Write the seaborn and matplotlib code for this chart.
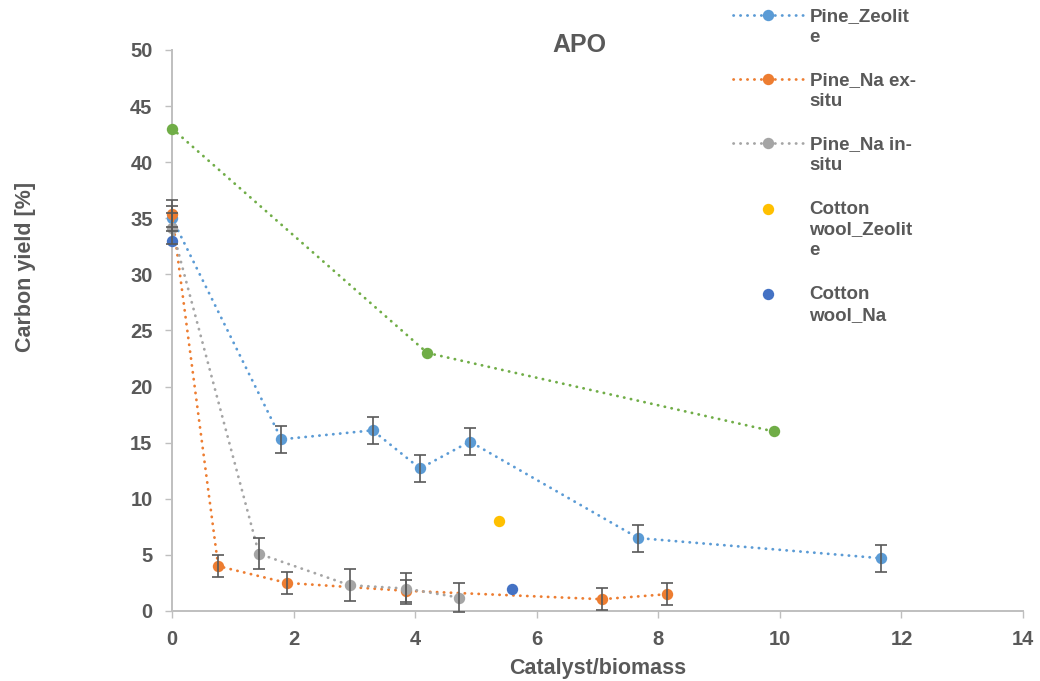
import matplotlib
matplotlib.use("Agg")
import matplotlib.pyplot as plt
import seaborn as sns

# ---- data ---------------------------------------------------------------
# unlabelled reference series (green)
base_x = [0, 4.2, 9.9]
base_y = [43.0, 23.0, 16.0]

# Pine_Zeolite
zeo_x = [0, 1.8, 3.3, 4.08, 4.9, 7.67, 11.67]
zeo_y = [35.0, 15.3, 16.1, 12.7, 15.1, 6.5, 4.7]
zeo_err = [1.1, 1.2, 1.2, 1.2, 1.2, 1.2, 1.2]

# Pine_Na ex-situ
naex_x = [0, 0.76, 1.89, 3.85, 7.07, 8.15]
naex_y = [35.4, 4.0, 2.5, 1.8, 1.05, 1.5]
naex_err = [1.2, 1.0, 1.0, 1.0, 1.0, 1.0]

# Pine_Na in-situ
nain_x = [0, 1.43, 2.92, 3.85, 4.72]
nain_y = [34.1, 5.1, 2.3, 2.0, 1.2]
nain_err = [1.4, 1.4, 1.4, 1.4, 1.3]

# Cotton wool series (single points, no connecting line)
cwz_x = [5.38]
cwz_y = [8.0]
cwna_x = [0, 5.59]
cwna_y = [33.0, 2.0]

labels = ["Pine_Zeolit\ne", "Pine_Na ex-\nsitu", "Pine_Na in-\nsitu",
          "Cotton\nwool_Zeolit\ne", "Cotton\nwool_Na"]
x_ticks = [0, 2, 4, 6, 8, 10, 12, 14]
y_ticks = [0, 5, 10, 15, 20, 25, 30, 35, 40, 45, 50]

# ---- style --------------------------------------------------------------
sns.set_theme(style="white")
plt.rcParams["font.family"] = ["Liberation Sans", "DejaVu Sans"]
plt.rcParams["font.weight"] = "bold"
plt.rcParams["axes.labelweight"] = "bold"

TEXT = "#595959"
AXIS = "#BFBFBF"
ERR = "#595959"
C_ZEO = "#5B9BD5"
C_NAEX = "#ED7D31"
C_NAIN = "#A5A5A5"
C_CWZ = "#FFC000"
C_CWNA = "#4472C4"
C_BASE = "#70AD47"

DOT = (0, (0.1, 2.4))

fig = plt.figure(figsize=(10.4, 6.81), dpi=100)
ax = fig.add_axes([0.1654, 0.1028, 0.8183, 0.8238])


def dotted_series(x, y, color, label=None):
    kw = dict(x=x, y=y, ax=ax, color=color, sort=False, estimator=None,
              errorbar=None, marker="o", markersize=8.2, markeredgewidth=0,
              linewidth=2.0, linestyle=DOT, dash_capstyle="round",
              clip_on=False, zorder=3)
    if label is not None:
        kw["label"] = label
    sns.lineplot(**kw)


def error_bars(x, y, err):
    ax.errorbar(x, y, yerr=err, fmt="none", ecolor=ERR, elinewidth=1.2,
                capsize=4.3, capthick=1.2, zorder=5, clip_on=False)


dotted_series(zeo_x, zeo_y, C_ZEO, labels[0])
dotted_series(naex_x, naex_y, C_NAEX, labels[1])
dotted_series(nain_x, nain_y, C_NAIN, labels[2])
sns.scatterplot(x=cwz_x, y=cwz_y, ax=ax, color=C_CWZ, s=67, linewidth=0,
                label=labels[3], clip_on=False, zorder=4)
sns.scatterplot(x=cwna_x, y=cwna_y, ax=ax, color=C_CWNA, s=67, linewidth=0,
                label=labels[4], clip_on=False, zorder=4)
dotted_series(base_x, base_y, C_BASE)

error_bars(zeo_x, zeo_y, zeo_err)
error_bars(naex_x, naex_y, naex_err)
error_bars(nain_x, nain_y, nain_err)

# ---- axes ---------------------------------------------------------------
ax.set_xlim(0, 14)
ax.set_ylim(0, 50)
ax.set_xticks(x_ticks)
ax.set_yticks(y_ticks)
ax.tick_params(axis="both", which="major", direction="out", length=5,
               width=1, color=AXIS, labelcolor=TEXT, labelsize=14.5, pad=9)
ax.tick_params(axis="x", bottom=True)
ax.tick_params(axis="y", left=True)
for side in ("top", "right"):
    ax.spines[side].set_visible(False)
for side in ("left", "bottom"):
    ax.spines[side].set_color(AXIS)
    ax.spines[side].set_linewidth(1.4)
ax.grid(False)

ax.set_xlabel("Catalyst/biomass", fontsize=15.5, color=TEXT, fontweight="bold")
ax.set_ylabel("Carbon yield [%]", fontsize=15.5, color=TEXT, fontweight="bold")
ax.xaxis.set_label_coords(0.5, -0.083)
ax.yaxis.set_label_coords(-0.16, 0.613)

ax.set_title("APO", x=0.479, y=1.009, va="center", pad=0, fontsize=18,
             color=TEXT, fontweight="bold")

# ---- legend -------------------------------------------------------------
handles, labs = ax.get_legend_handles_labels()
leg = ax.legend(handles, labs, loc="upper left",
                bbox_to_anchor=(0.705, 0.988), bbox_transform=fig.transFigure,
                frameon=False, handlelength=3.7,
                handletextpad=0.37, labelspacing=1.4, borderpad=0,
                borderaxespad=0, numpoints=1, scatterpoints=1,
                labelcolor=TEXT, prop={"weight": "bold", "size": 13.5})
for text in leg.get_texts():
    text.set_linespacing(1.3)
# keep each marker level with the first line of its wrapped label
for column in leg._legend_handle_box.get_children():
    for item in column.get_children():
        item.align = "top"

fig.savefig("out.png", dpi=100)
